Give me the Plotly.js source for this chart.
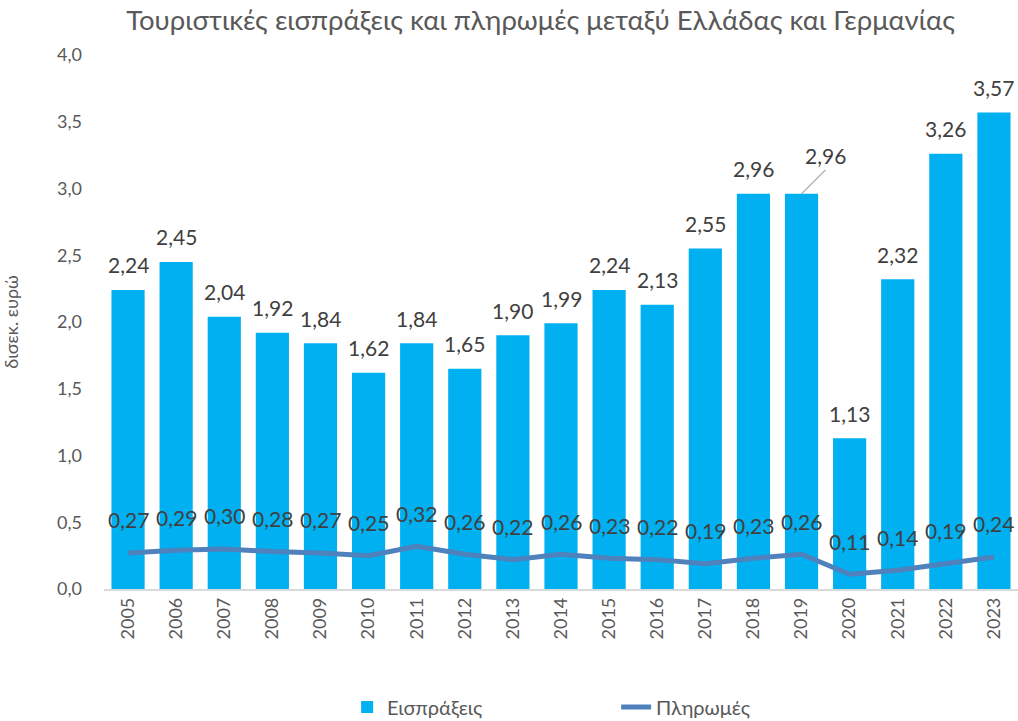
<!DOCTYPE html>
<html><head><meta charset="utf-8">
<script src="https://cdn.plot.ly/plotly-3.0.1.min.js"></script>
<style>html,body{margin:0;padding:0;background:#fff}#c{width:1018px;height:721px}</style>
</head><body><div id="c"></div>
<script>
const years = ['2005','2006','2007','2008','2009','2010','2011','2012','2013','2014','2015','2016','2017','2018','2019','2020','2021','2022','2023'];
const receipts = [2.24,2.45,2.04,1.92,1.84,1.62,1.84,1.65,1.90,1.99,2.24,2.13,2.55,2.96,2.96,1.13,2.32,3.26,3.57];
const payments = [0.27,0.29,0.30,0.28,0.27,0.25,0.32,0.26,0.22,0.26,0.23,0.22,0.19,0.23,0.26,0.11,0.14,0.19,0.24];
const seriesNames = ['Εισπράξεις','Πληρωμές'];

const FONT = 'Lato, "Open Sans", sans-serif';
const fmt = v => v.toFixed(2).replace('.', ',');

const annotations = [];
years.forEach((y, i) => {
  const special = (y === '2019');
  annotations.push({
    x: i, y: receipts[i], xref: 'x', yref: 'y',
    text: fmt(receipts[i]),
    showarrow: special,
    arrowhead: 0, arrowwidth: 1.2, arrowcolor: '#a6a6a6',
    ax: special ? 24 : 0, ay: special ? -24 : 0,
    standoff: 0,
    yshift: special ? 0 : 25,
    yanchor: special ? 'bottom' : 'middle',
    font: {family: FONT, size: 21, color: '#404040'}
  });
  annotations.push({
    x: i, y: payments[i], xref: 'x', yref: 'y',
    text: fmt(payments[i]), showarrow: false,
    yshift: 33, yanchor: 'middle',
    font: {family: FONT, size: 21, color: '#404040'}
  });
});

const data = [
  {type: 'bar', x: years, y: receipts, name: seriesNames[0],
   marker: {color: '#00B0F0'}, hoverinfo: 'x+y'},
  {type: 'scatter', mode: 'lines', x: years, y: payments, name: seriesNames[1],
   line: {color: '#4F81BD', width: 5}}
];

const layout = {
  width: 1018, height: 721,
  margin: {l: 104, r: 0, t: 55, b: 132, autoexpand: false},
  paper_bgcolor: '#fff', plot_bgcolor: '#fff',
  separators: ',.',
  bargap: 0.31,
  font: {family: FONT, color: '#595959'},
  title: {text: 'Τουριστικές εισπράξεις και πληρωμές μεταξύ Ελλάδας και Γερμανίας',
          font: {family: FONT, size: 27.5, color: '#595959'},
          x: 0.531, xref: 'container', xanchor: 'center', y: 0.972, yref: 'container', yanchor: 'middle'},
  xaxis: {type: 'category', range: [-0.5, years.length - 0.5], tickangle: -90, showgrid: false, zeroline: false,
          showline: true, linecolor: '#d9d9d9', linewidth: 1.5, ticks: '', automargin: false,
          tickfont: {family: FONT, size: 18, color: '#595959'}},
  yaxis: {range: [0, 4.0], dtick: 0.5, tickformat: '.1f', showgrid: false, zeroline: false,
          showline: false, ticks: '', ticklabelstandoff: 21, automargin: false,
          tickfont: {family: FONT, size: 18, color: '#595959'},
          title: {text: 'δισεκ. ευρώ', font: {family: FONT, size: 18, color: '#595959'}, standoff: 41}},
  legend: {orientation: 'h', x: 0.266, xanchor: 'left', y: -0.221, yanchor: 'middle',
           entrywidth: 224, entrywidthmode: 'pixels',
           font: {family: FONT, size: 20, color: '#595959'}},
  showlegend: true,
  annotations: annotations
};

Plotly.newPlot('c', data, layout, {displayModeBar: false, staticPlot: true});
</script>
</body></html>
